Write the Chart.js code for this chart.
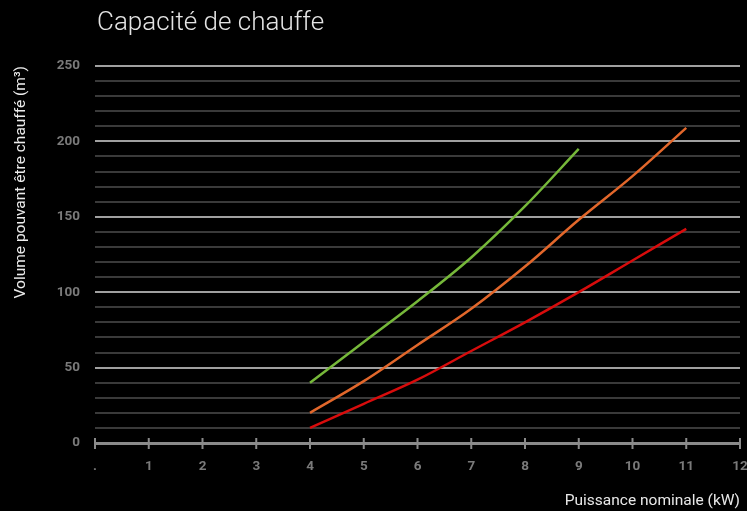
<!DOCTYPE html>
<html>
<head>
<meta charset="utf-8">
<script src="https://cdn.jsdelivr.net/npm/chart.js@4/dist/chart.umd.min.js"></script>
<style>
html,body{margin:0;padding:0;background:#000;}
#wrap{width:747px;height:511px;}
</style>
</head>
<body>
<div id="wrap"><canvas id="c" width="747" height="511"></canvas></div>
<script>
const chartTitle = "Capacité de chauffe";
const yTitle = "Volume pouvant être chauffé (m³)";
const xTitle = "Puissance nominale (kW)";
const xTickLabels = [".", "1", "2", "3", "4", "5", "6", "7", "8", "9", "10", "11", "12"];
const powerKW = [4, 5, 6, 7, 8, 9, 10, 11];
const greenSeries = [40, 67, 94, 123, 157, 195];
const orangeSeries = [20, 41, 65, 89, 117, 148, 177, 209];
const redSeries = [10, 26, 42, 61, 80, 100, 121, 142];

const toPts = (vals) => vals.map((v, i) => ({x: powerKW[i], y: v}));

const decor = {
  id: 'decor',
  afterDraw(chart) {
    const ctx = chart.ctx;
    const xs = chart.scales.x;
    const yb = chart.chartArea.bottom;
    ctx.save();
    ctx.strokeStyle = '#8a8a8a';
    ctx.lineWidth = 2;
    for (let i = 0; i < xTickLabels.length; i++) {
      const px = xs.getPixelForValue(i);
      ctx.beginPath();
      ctx.moveTo(px, yb - 5);
      ctx.lineTo(px, yb + 6);
      ctx.stroke();
    }
    ctx.fillStyle = '#e4e4e4';
    ctx.font = '300 26px Roboto';
    ctx.textBaseline = 'alphabetic';
    ctx.textAlign = 'left';
    ctx.fillText(chartTitle, 97, 30);
    ctx.restore();
  }
};

new Chart(document.getElementById('c'), {
  type: 'line',
  data: {
    datasets: [
      {data: toPts(greenSeries), borderColor: '#76b83a', borderWidth: 2.5, pointRadius: 0, cubicInterpolationMode: 'monotone'},
      {data: toPts(orangeSeries), borderColor: '#e2672b', borderWidth: 2.5, pointRadius: 0, cubicInterpolationMode: 'monotone'},
      {data: toPts(redSeries), borderColor: '#d80c0c', borderWidth: 2.5, pointRadius: 0, cubicInterpolationMode: 'monotone'}
    ]
  },
  options: {
    responsive: false,
    animation: false,
    layout: {padding: {top: 66, right: 7, left: 0, bottom: 0}},
    plugins: {legend: {display: false}, tooltip: {enabled: false}, title: {display: false}},
    scales: {
      x: {
        type: 'linear', min: 0, max: 12,
        afterFit(s) { s.height = 68; s.paddingRight = 0; s.paddingLeft = 0; },
        grid: {display: false, drawTicks: false},
        border: {display: false},
        ticks: {
          stepSize: 1, autoSkip: false, maxRotation: 0, padding: 16, color: '#7a7a7a',
          font: {family: 'Roboto', size: 13.5, weight: 'bold'},
          callback: (v) => xTickLabels[v] !== undefined ? xTickLabels[v] : ''
        },
        title: {
          display: true, text: xTitle, align: 'end', color: '#e8e8e8',
          font: {family: 'Roboto', size: 15.5}, padding: {top: 0, bottom: 1}
        }
      },
      y: {
        type: 'linear', min: 0, max: 250,
        afterFit(s) { s.width = 95; s.paddingTop = 0; s.paddingBottom = 0; },
        border: {display: false},
        grid: {
          drawTicks: false,
          color: (c) => c.tick.value === 0 ? '#8a8a8a' : (c.tick.value % 50 === 0 ? '#a0a0a0' : '#3a3a3a'),
          lineWidth: (c) => c.tick.value === 0 ? 3 : 2
        },
        ticks: {
          stepSize: 10, autoSkip: false, padding: 15, color: '#7a7a7a',
          font: {family: 'Roboto', size: 13.5, weight: 'bold'},
          callback: (v) => v % 50 === 0 ? String(v) : ''
        },
        title: {
          display: true, text: yTitle, align: 'end', color: '#ececec',
          font: {family: 'Roboto', size: 15.5}, padding: {top: 12, bottom: 0}
        }
      }
    }
  },
  plugins: [decor]
});
</script>
</body>
</html>
